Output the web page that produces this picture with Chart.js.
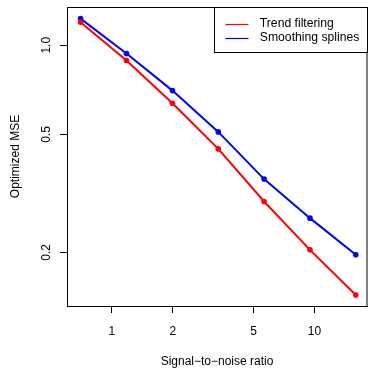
<!DOCTYPE html>
<html>
<head>
<meta charset="utf-8">
<style>
  html, body { margin: 0; padding: 0; background: #fff; }
  canvas { display: block; }
</style>
<script src="https://cdn.jsdelivr.net/npm/chart.js@4.4.1/dist/chart.umd.min.js"></script>
</head>
<body>
<canvas id="c" width="374" height="374"></canvas>
<script>
// ---- data ----
const snr = [0.70, 1.18, 1.99, 3.35, 5.64, 9.50, 16.0];
const trendFiltering = [1.195, 0.888, 0.637, 0.447, 0.297, 0.204, 0.1437];
const smoothingSplines = [1.23, 0.938, 0.703, 0.510, 0.3535, 0.261, 0.1965];
const seriesNames = ["Trend filtering", "Smoothing splines"];
const seriesColors = ["#ff0000", "#0000ff"];
const xTickValues = [1, 2, 5, 10];
const yTickValues = [0.2, 0.5, 1.0];
const xLabel = "Signal\u2212to\u2212noise ratio";
const yLabel = "Optimized MSE";

const FONT = "'Liberation Sans', Arial, Helvetica, sans-serif";
const toPts = (xs, ys) => xs.map((x, i) => ({ x: x, y: ys[i] }));

const boxPlugin = {
  id: 'rbox',
  afterDraw(chart) {
    const { ctx, chartArea: a } = chart;
    ctx.save();
    ctx.strokeStyle = '#000';
    ctx.lineWidth = 1;
    ctx.strokeRect(Math.round(a.left) + 0.5, Math.round(a.top) + 0.5,
                   Math.round(a.right - a.left) - 0.5, Math.round(a.bottom - a.top));
    // legend (top-right, R style)
    ctx.font = '12.2px ' + FONT;
    const right = Math.round(a.right) + 0.5;
    const top = Math.round(a.top) + 0.5;
    const left = Math.round(a.right - 153) + 0.5;
    const h = 45;
    ctx.fillStyle = '#fff';
    ctx.fillRect(left, top, right - left, h);
    ctx.strokeStyle = '#000';
    ctx.strokeRect(left, top, right - left, h);
    seriesNames.forEach((n, i) => {
      const y = top + 16 + i * 14.6;
      ctx.strokeStyle = seriesColors[i];
      ctx.lineWidth = 1.2;
      ctx.beginPath();
      ctx.moveTo(left + 11, Math.round(y) + 0.5);
      ctx.lineTo(left + 34, Math.round(y) + 0.5);
      ctx.stroke();
      ctx.fillStyle = '#000';
      ctx.textBaseline = 'middle';
      ctx.textAlign = 'left';
      ctx.fillText(n, left + 45.3, y);
    });
    ctx.restore();
  }
};

new Chart(document.getElementById('c'), {
  type: 'line',
  data: {
    datasets: [
      {
        label: seriesNames[0],
        data: toPts(snr, trendFiltering),
        borderColor: seriesColors[0],
        backgroundColor: seriesColors[0],
        borderWidth: 2,
        pointRadius: 2.8,
        pointBorderWidth: 0,
        tension: 0
      },
      {
        label: seriesNames[1],
        data: toPts(snr, smoothingSplines),
        borderColor: seriesColors[1],
        backgroundColor: seriesColors[1],
        borderWidth: 2,
        pointRadius: 2.8,
        pointBorderWidth: 0,
        tension: 0
      }
    ]
  },
  options: {
    responsive: false,
    animation: false,
    layout: { padding: { top: 7, right: 7, left: 0, bottom: 0 } },
    plugins: { legend: { display: false }, tooltip: { enabled: false } },
    scales: {
      x: {
        type: 'logarithmic',
        min: 0.623,
        max: 18.17,
        afterBuildTicks: s => { s.ticks = xTickValues.map(v => ({ value: v })); },
        afterFit: s => { s.height = 68; s.paddingLeft = 0; s.paddingRight = 0; },
        ticks: {
          color: '#000',
          font: { family: FONT, size: 12 },
          padding: 11,
          maxRotation: 0,
          minRotation: 0,
          autoSkip: false,
          callback: v => String(v)
        },
        grid: { drawOnChartArea: false, drawTicks: true, tickLength: 7, color: '#000', tickColor: '#000' },
        border: { display: true, color: '#000' },
        title: { display: true, text: xLabel, color: '#000', font: { family: FONT, size: 12 }, padding: { top: 0, bottom: 5 } }
      },
      y: {
        type: 'logarithmic',
        min: 0.1319,
        max: 1.346,
        afterBuildTicks: s => { s.ticks = yTickValues.map(v => ({ value: v })); },
        afterFit: s => { s.width = 67; s.paddingTop = 0; s.paddingBottom = 0; },
        ticks: {
          color: '#000',
          font: { family: FONT, size: 12 },
          padding: 5,
          minRotation: 90,
          maxRotation: 90,
          crossAlign: 'center',
          autoSkip: false,
          callback: v => Number(v).toFixed(1)
        },
        grid: { drawOnChartArea: false, drawTicks: true, tickLength: 7, color: '#000', tickColor: '#000' },
        border: { display: true, color: '#000' },
        title: { display: true, text: yLabel, color: '#000', font: { family: FONT, size: 12 }, padding: { top: 8, bottom: 0 } }
      }
    }
  },
  plugins: [boxPlugin]
});
</script>
</body>
</html>
